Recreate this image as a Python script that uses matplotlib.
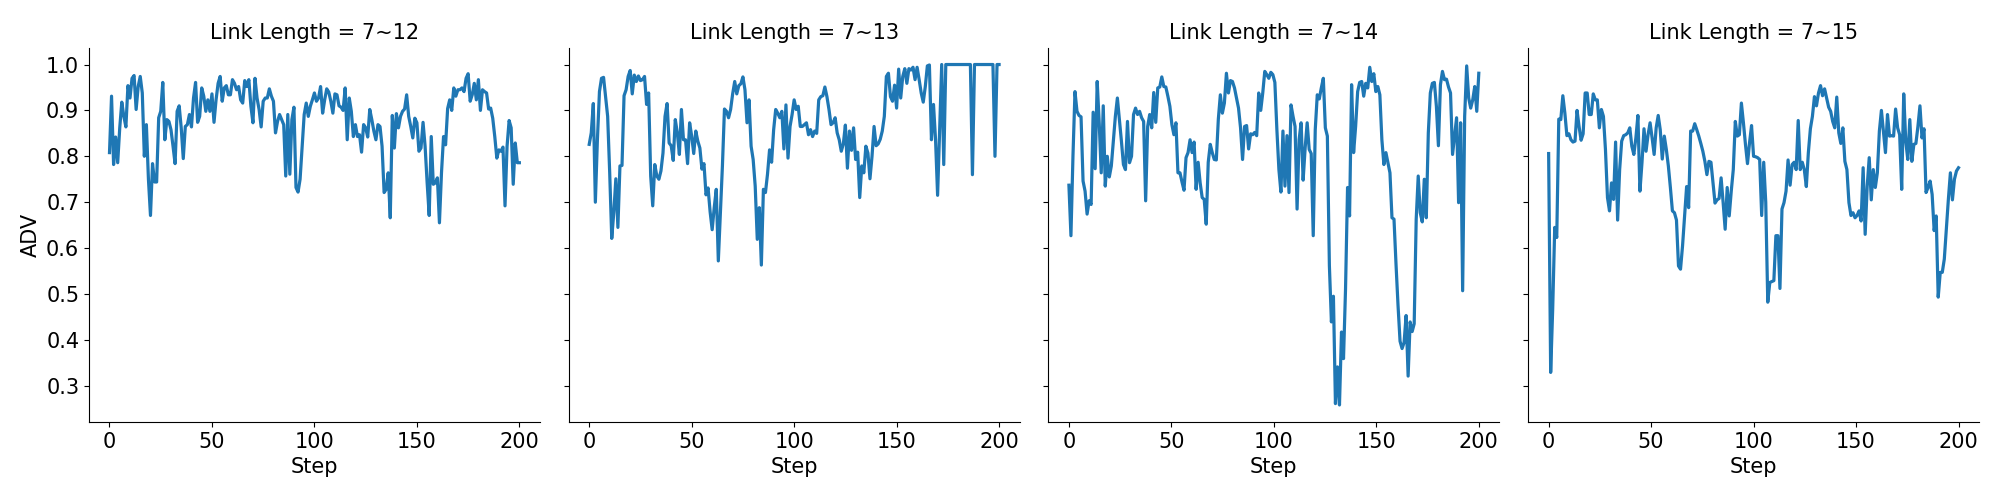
import numpy as np
import matplotlib
matplotlib.use("Agg")
import matplotlib.pyplot as plt

titles = ["Link Length = 7~12", "Link Length = 7~13",
          "Link Length = 7~14", "Link Length = 7~15"]

adv_12 = [
    0.808, 0.931, 0.782, 0.842, 0.786, 0.862, 0.918, 0.887, 0.864, 0.954,
    0.927, 0.970, 0.976, 0.902, 0.952, 0.974, 0.938, 0.800, 0.869, 0.750,
    0.671, 0.784, 0.744, 0.744, 0.884, 0.898, 0.961, 0.836, 0.880, 0.876,
    0.858, 0.822, 0.784, 0.898, 0.910, 0.862, 0.795, 0.865, 0.869, 0.891,
    0.864, 0.927, 0.961, 0.874, 0.887, 0.949, 0.931, 0.898, 0.923, 0.898,
    0.936, 0.874, 0.923, 0.959, 0.974, 0.920, 0.949, 0.954, 0.934, 0.934,
    0.967, 0.959, 0.945, 0.952, 0.923, 0.916, 0.965, 0.952, 0.967, 0.909,
    0.873, 0.970, 0.927, 0.902, 0.864, 0.920, 0.927, 0.927, 0.947, 0.931,
    0.920, 0.851, 0.876, 0.891, 0.880, 0.869, 0.757, 0.891, 0.761, 0.880,
    0.907, 0.732, 0.722, 0.750, 0.822, 0.891, 0.916, 0.887, 0.909, 0.923,
    0.938, 0.920, 0.927, 0.952, 0.894, 0.923, 0.947, 0.940, 0.920, 0.894,
    0.936, 0.934, 0.910, 0.907, 0.900, 0.949, 0.836, 0.927, 0.898, 0.843,
    0.869, 0.843, 0.847, 0.809, 0.869, 0.862, 0.842, 0.902, 0.880, 0.855,
    0.836, 0.869, 0.865, 0.822, 0.721, 0.728, 0.764, 0.666, 0.889, 0.818,
    0.893, 0.862, 0.887, 0.898, 0.903, 0.934, 0.887, 0.865, 0.840, 0.883,
    0.873, 0.811, 0.818, 0.874, 0.822, 0.742, 0.671, 0.843, 0.739, 0.742,
    0.753, 0.655, 0.764, 0.843, 0.825, 0.904, 0.923, 0.900, 0.949, 0.931,
    0.945, 0.945, 0.949, 0.941, 0.970, 0.980, 0.920, 0.934, 0.959, 0.923,
    0.967, 0.900, 0.945, 0.941, 0.938, 0.903, 0.905, 0.883, 0.843, 0.796,
    0.814, 0.811, 0.820, 0.692, 0.822, 0.878, 0.862, 0.739, 0.829, 0.786,
    0.786,
]

adv_13 = [
    0.826, 0.851, 0.915, 0.700, 0.836, 0.941, 0.970, 0.972, 0.930, 0.887,
    0.764, 0.621, 0.678, 0.751, 0.645, 0.779, 0.780, 0.932, 0.945, 0.974,
    0.987, 0.936, 0.977, 0.963, 0.975, 0.965, 0.967, 0.974, 0.913, 0.938,
    0.757, 0.692, 0.782, 0.757, 0.750, 0.768, 0.807, 0.887, 0.915, 0.829,
    0.823, 0.791, 0.880, 0.851, 0.804, 0.902, 0.836, 0.836, 0.784, 0.873,
    0.844, 0.806, 0.855, 0.833, 0.818, 0.772, 0.784, 0.716, 0.731, 0.679,
    0.640, 0.688, 0.728, 0.572, 0.678, 0.779, 0.903, 0.898, 0.884, 0.902,
    0.936, 0.963, 0.936, 0.954, 0.958, 0.973, 0.945, 0.873, 0.923, 0.822,
    0.793, 0.735, 0.619, 0.688, 0.563, 0.728, 0.721, 0.761, 0.814, 0.787,
    0.858, 0.902, 0.894, 0.884, 0.898, 0.816, 0.912, 0.796, 0.865, 0.891,
    0.923, 0.902, 0.909, 0.865, 0.865, 0.869, 0.873, 0.847, 0.858, 0.843,
    0.855, 0.850, 0.923, 0.930, 0.932, 0.951, 0.930, 0.902, 0.869, 0.873,
    0.884, 0.851, 0.836, 0.811, 0.827, 0.868, 0.774, 0.855, 0.813, 0.862,
    0.793, 0.809, 0.710, 0.779, 0.764, 0.822, 0.807, 0.751, 0.800, 0.865,
    0.823, 0.827, 0.837, 0.855, 0.887, 0.974, 0.981, 0.930, 0.920, 0.955,
    0.905, 0.990, 0.927, 0.974, 0.991, 0.959, 0.991, 0.988, 0.994, 0.967,
    0.994, 0.967, 0.938, 0.918, 0.952, 0.997, 0.999, 0.836, 0.913, 0.836,
    0.715, 0.858, 1.000, 0.782, 1.000, 1.000, 1.000, 1.000, 1.000, 1.000,
    1.000, 1.000, 1.000, 1.000, 1.000, 1.000, 1.000, 0.760, 1.000, 1.000,
    1.000, 1.000, 1.000, 1.000, 1.000, 1.000, 1.000, 1.000, 0.800, 1.000,
    1.000,
]

adv_14 = [
    0.737, 0.627, 0.800, 0.941, 0.898, 0.889, 0.886, 0.746, 0.724, 0.674,
    0.703, 0.695, 0.896, 0.773, 0.963, 0.873, 0.764, 0.910, 0.735, 0.800,
    0.755, 0.779, 0.833, 0.887, 0.927, 0.880, 0.833, 0.782, 0.771, 0.876,
    0.786, 0.800, 0.891, 0.905, 0.891, 0.898, 0.884, 0.876, 0.703, 0.865,
    0.891, 0.862, 0.939, 0.874, 0.949, 0.951, 0.973, 0.952, 0.951, 0.931,
    0.909, 0.869, 0.847, 0.873, 0.764, 0.764, 0.744, 0.726, 0.797, 0.808,
    0.836, 0.808, 0.831, 0.728, 0.787, 0.742, 0.710, 0.706, 0.652, 0.787,
    0.826, 0.808, 0.793, 0.792, 0.881, 0.934, 0.894, 0.916, 0.981, 0.938,
    0.965, 0.963, 0.949, 0.927, 0.905, 0.862, 0.793, 0.865, 0.867, 0.816,
    0.849, 0.847, 0.852, 0.845, 0.938, 0.900, 0.938, 0.985, 0.978, 0.970,
    0.983, 0.978, 0.961, 0.858, 0.771, 0.722, 0.855, 0.735, 0.845, 0.721,
    0.912, 0.887, 0.865, 0.685, 0.836, 0.873, 0.748, 0.818, 0.873, 0.815,
    0.806, 0.627, 0.858, 0.934, 0.925, 0.949, 0.970, 0.862, 0.844, 0.562,
    0.439, 0.495, 0.261, 0.341, 0.258, 0.417, 0.359, 0.511, 0.732, 0.670,
    0.956, 0.808, 0.865, 0.941, 0.961, 0.963, 0.931, 0.959, 0.949, 0.994,
    0.963, 0.980, 0.941, 0.952, 0.934, 0.836, 0.782, 0.808, 0.786, 0.764,
    0.666, 0.663, 0.565, 0.475, 0.397, 0.381, 0.394, 0.453, 0.321, 0.439,
    0.418, 0.435, 0.663, 0.757, 0.677, 0.657, 0.750, 0.666, 0.851, 0.938,
    0.959, 0.961, 0.909, 0.823, 0.956, 0.985, 0.967, 0.968, 0.951, 0.938,
    0.804, 0.844, 0.884, 0.699, 0.873, 0.507, 0.887, 0.997, 0.927, 0.905,
    0.923, 0.952, 0.898, 0.981,
]

adv_15 = [
    0.806, 0.329, 0.467, 0.645, 0.623, 0.881, 0.880, 0.932, 0.894, 0.845,
    0.849, 0.836, 0.831, 0.833, 0.900, 0.865, 0.835, 0.849, 0.938, 0.938,
    0.891, 0.891, 0.936, 0.923, 0.923, 0.862, 0.902, 0.887, 0.815, 0.710,
    0.681, 0.742, 0.706, 0.831, 0.661, 0.771, 0.833, 0.845, 0.847, 0.851,
    0.862, 0.822, 0.804, 0.840, 0.889, 0.724, 0.786, 0.860, 0.811, 0.847,
    0.873, 0.840, 0.804, 0.862, 0.889, 0.858, 0.794, 0.844, 0.815, 0.779,
    0.732, 0.681, 0.677, 0.661, 0.561, 0.554, 0.605, 0.670, 0.734, 0.688,
    0.855, 0.855, 0.871, 0.858, 0.844, 0.828, 0.811, 0.789, 0.760, 0.789,
    0.787, 0.742, 0.698, 0.705, 0.708, 0.753, 0.699, 0.641, 0.732, 0.670,
    0.724, 0.771, 0.876, 0.844, 0.847, 0.916, 0.873, 0.826, 0.784, 0.829,
    0.867, 0.800, 0.799, 0.797, 0.793, 0.671, 0.787, 0.700, 0.482, 0.525,
    0.527, 0.529, 0.627, 0.627, 0.512, 0.685, 0.699, 0.724, 0.792, 0.737,
    0.782, 0.787, 0.771, 0.878, 0.771, 0.787, 0.771, 0.734, 0.808, 0.860,
    0.887, 0.930, 0.910, 0.938, 0.954, 0.932, 0.947, 0.927, 0.907, 0.898,
    0.876, 0.862, 0.929, 0.851, 0.828, 0.862, 0.789, 0.771, 0.699, 0.671,
    0.677, 0.666, 0.671, 0.681, 0.659, 0.775, 0.630, 0.735, 0.797, 0.705,
    0.771, 0.732, 0.764, 0.855, 0.900, 0.855, 0.808, 0.891, 0.844, 0.845,
    0.844, 0.903, 0.862, 0.847, 0.728, 0.936, 0.833, 0.793, 0.880, 0.789,
    0.826, 0.828, 0.865, 0.910, 0.840, 0.860, 0.721, 0.732, 0.746, 0.717,
    0.638, 0.670, 0.493, 0.547, 0.547, 0.576, 0.641, 0.706, 0.764, 0.705,
    0.750, 0.768, 0.775,
]

series = [adv_12, adv_13, adv_14, adv_15]

plt.rcParams['font.size'] = 15

fig, axes = plt.subplots(1, 4, figsize=(20, 5), dpi=100, sharey=True)
fig.subplots_adjust(left=0.0445, right=0.9895, bottom=0.156, top=0.905, wspace=0.064)

for ax, title, adv in zip(axes, titles, series):
    step = np.linspace(0, 200, len(adv))
    ax.plot(step, adv, color='#1f77b4', linewidth=2.3)
    ax.set_title(title, fontsize=15)
    ax.set_xlabel('Step', fontsize=15)
    ax.spines['top'].set_visible(False)
    ax.spines['right'].set_visible(False)
    ax.tick_params(labelsize=15)
    ax.set_xticks([0, 50, 100, 150, 200])

axes[0].set_ylabel('ADV', fontsize=15)
axes[0].set_yticks(np.arange(0.3, 1.01, 0.1))

plt.savefig('out.png')
